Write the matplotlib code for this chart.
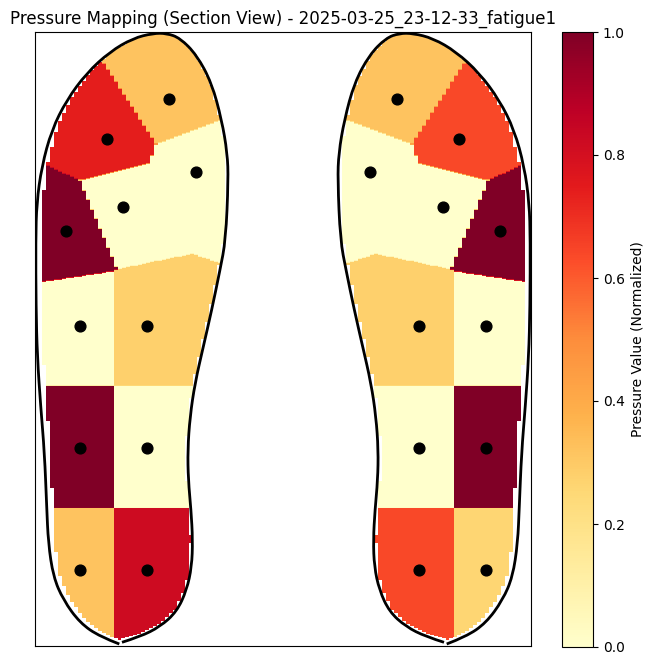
import matplotlib
matplotlib.use("Agg")
import matplotlib.pyplot as plt
import matplotlib.patches as patches
from matplotlib.path import Path
import numpy as np

title = "Pressure Mapping (Section View) - 2025-03-25_23-12-33_fatigue1"
cbar_label = "Pressure Value (Normalized)"

# sensor positions of the left foot (picture coordinates), right foot is the mirror image
sensor_x = [169, 107, 196, 123, 66, 80, 147, 80, 147, 80, 147]
sensor_y = [99, 139, 172, 207, 231, 326, 326, 448, 448, 570, 570]

# normalized pressure for each sensor
left_values = [0.32, 0.74, 0.0, 0.0, 1.0, 0.0, 0.28, 1.0, 0.0, 0.32, 0.82]
right_values = [0.32, 0.64, 0.0, 0.0, 1.0, 0.0, 0.28, 1.0, 0.0, 0.26, 0.64]

# foot outline, left foot, going up the inner side and down the outer side
outline_x = [122, 140, 160, 176.7, 186.7, 191.7, 192.7, 191, 188.3, 187.7, 190, 195,
             203.3, 211.7, 220, 225.7, 228.3, 227.3, 221.7, 211.7, 196.7, 180, 166.7,
             153, 133, 110, 86.7, 66.7, 51.7, 41.7, 36.7, 35.7, 36, 37.3, 40.7, 44.5,
             46.7, 48.3, 53.3, 63.3, 80, 100, 119.3]
outline_y = [642.3, 636.7, 626.7, 611.7, 590, 566.7, 540, 510, 480, 450, 416.7, 383,
             346.7, 310, 270, 240, 180, 153, 120, 83, 55, 38, 33.3,
             33.3, 38.3, 51.7, 73, 100, 130, 166.7, 203, 240, 306.7, 356.7, 406.7, 453,
             506.7, 543, 576.7, 600, 623, 636.7, 644]

MIRROR = 566
CELL_X = 4
CELL_Y = 1

sensor_x = np.array(sensor_x, dtype=float)
sensor_y = np.array(sensor_y, dtype=float)
outline_x = np.array(outline_x)
outline_y = np.array(outline_y)


def smooth_path(xs, ys):
    # quadratic segments through the midpoints of the outline
    pts = np.column_stack([xs, ys])
    verts = [pts[0]]
    codes = [Path.MOVETO]
    for i in range(1, len(pts) - 1):
        end = pts[i + 1] if i == len(pts) - 2 else (pts[i] + pts[i + 1]) / 2
        verts += [pts[i], end]
        codes += [Path.CURVE3, Path.CURVE3]
    return Path(verts, codes)


foot = Path(np.column_stack([outline_x, outline_y]))

# pressure grid, wide and flat cells: each one takes the value of the nearest sensor
x_edges = np.arange(37, 529 + CELL_X, CELL_X)
y_edges = np.arange(32, 646 + CELL_Y, CELL_Y)
cx = (x_edges[:-1] + x_edges[1:]) / 2
cy = (y_edges[:-1] + y_edges[1:]) / 2
gx, gy = np.meshgrid(cx, cy)


def foot_layer(px, py, values):
    # px, py in left foot coordinates
    d = (px[..., None] - sensor_x) ** 2 + (py[..., None] - sensor_y) ** 2
    layer = np.array(values)[d.argmin(axis=-1)]
    inside = np.ones(px.shape, dtype=bool)
    # the mask sits further from the outer side, less so near the toes
    outer_dy = np.where(py < 320, 3, 0)
    for dx, dy in [(-5, outer_dy), (1.5, 0), (0, -1.5), (0, 1.5)]:
        test = np.column_stack([(px + dx).ravel(), (py + dy).ravel()])
        inside &= foot.contains_points(test).reshape(px.shape)
    return np.where(inside, layer, np.nan)


left_layer = foot_layer(gx, gy, left_values)
right_layer = foot_layer(MIRROR - gx, gy, right_values)
grid = np.where(np.isnan(left_layer), right_layer, left_layer)
# one pixel per sample so the hanning filter only softens the cell borders
grid = np.repeat(grid, CELL_X, axis=1)

fig = plt.figure(figsize=(6.54, 6.65), dpi=100)
ax = fig.add_axes([35 / 654, 1 - 646 / 665, 496 / 654, 614 / 665])
cax = fig.add_axes([562 / 654, 1 - 647 / 665, 31 / 654, 615 / 665])

im = ax.imshow(grid, cmap="YlOrRd", vmin=0, vmax=1, aspect="auto", origin="upper",
               interpolation="hanning", interpolation_stage="data",
               extent=(x_edges[0] + 0.5, x_edges[-1] + 0.5, y_edges[-1] - 0.5, y_edges[0] - 0.5))

ax.add_patch(patches.PathPatch(smooth_path(outline_x, outline_y), fill=False,
                               edgecolor="black", linewidth=2, zorder=3))
ax.add_patch(patches.PathPatch(smooth_path(MIRROR - outline_x, outline_y), fill=False,
                               edgecolor="black", linewidth=2, zorder=3))

ax.scatter(sensor_x, sensor_y, color="black", s=60, zorder=4)
ax.scatter(MIRROR - sensor_x, sensor_y, color="black", s=60, zorder=4)

ax.set_xlim(35, 531)
ax.set_ylim(646, 32)
ax.set_xticks([])
ax.set_yticks([])
ax.set_title(title, fontsize=12)

cbar = fig.colorbar(im, cax=cax, label=cbar_label)
cbar.set_ticks([0.0, 0.2, 0.4, 0.6, 0.8, 1.0])

plt.savefig("out.png", dpi=100)
